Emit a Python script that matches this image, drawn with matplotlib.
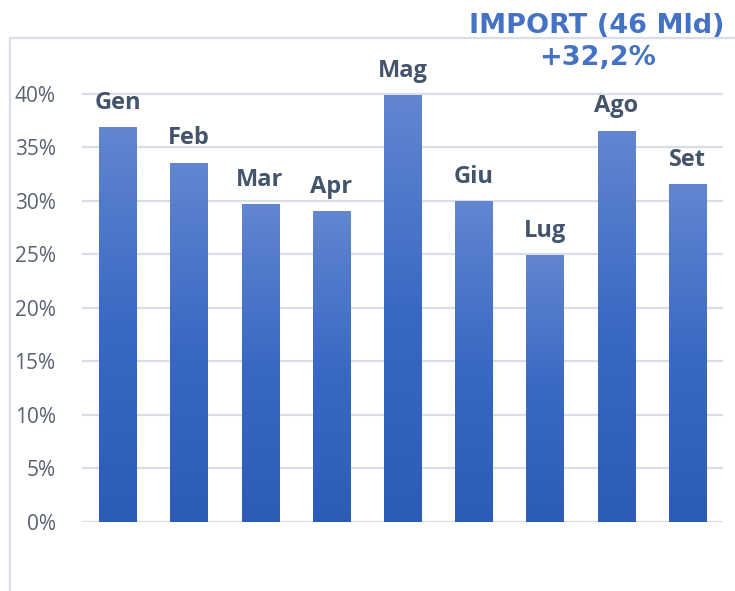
import numpy as np
import matplotlib
matplotlib.use("Agg")
import matplotlib.pyplot as plt
from matplotlib.colors import LinearSegmentedColormap
from matplotlib.lines import Line2D
from matplotlib.ticker import PercentFormatter

months = ["Gen", "Feb", "Mar", "Apr", "Mag", "Giu", "Lug", "Ago", "Set"]
values = [36.8, 33.5, 29.6, 29.0, 39.8, 29.9, 24.9, 36.5, 31.5]
yticks = [0, 5, 10, 15, 20, 25, 30, 35, 40]
title_lines = ["IMPORT (46 Mld)", "+32,2%"]

fig = plt.figure(figsize=(7.35, 5.91), dpi=100)
ax = fig.add_axes([82/735, 1-522/591, 641/735, (522-40)/591])

cmap = LinearSegmentedColormap.from_list("g", ["#2C5CB8", "#3A69C4", "#6286D0"])
grad = np.linspace(0, 1, 256).reshape(-1, 1)
w = 0.52
x = np.arange(len(months))
for xi, v in zip(x, values):
    ax.imshow(grad, extent=(xi - w/2, xi + w/2, 0, v), origin="lower",
              aspect="auto", cmap=cmap, zorder=2)
    ax.annotate(months[xi], (xi, v), xytext=(0, 13.5), textcoords="offset points",
                ha="center", va="baseline", fontsize=17, fontweight="bold",
                color="#44546A", family="Open Sans", zorder=3)

ax.set_xlim(-0.5, len(months) - 0.5)
ax.set_ylim(0, 45)
ax.set_yticks(yticks)
ax.yaxis.set_major_formatter(PercentFormatter(decimals=0))
ax.set_xticks([])
for s in ax.spines.values():
    s.set_visible(False)
ax.grid(axis="y", color="#D9DDE6", linewidth=1.6, zorder=0)
ax.set_axisbelow(True)
ax.tick_params(axis="y", length=0, pad=19, labelsize=15, labelcolor="#5A6272")
for lab in ax.get_yticklabels():
    lab.set_family("Open Sans")

# outer frame lines
fig.add_artist(Line2D([10/735, 10/735], [0, 1-38/591], transform=fig.transFigure,
                      color="#D9DEE8", linewidth=1.6))
fig.add_artist(Line2D([10/735, 1.0], [1-38/591, 1-38/591], transform=fig.transFigure,
                      color="#D9DEE8", linewidth=1.6))

fig.text(597/735, 1-33/591, title_lines[0], ha="center", va="baseline", fontsize=19.5,
         fontweight="bold", color="#4472C4", family="DejaVu Sans")
fig.text(598/735, 1-65/591, title_lines[1], ha="center", va="baseline", fontsize=19.5,
         fontweight="bold", color="#4472C4", family="DejaVu Sans")

fig.savefig("out.png", dpi=100)
